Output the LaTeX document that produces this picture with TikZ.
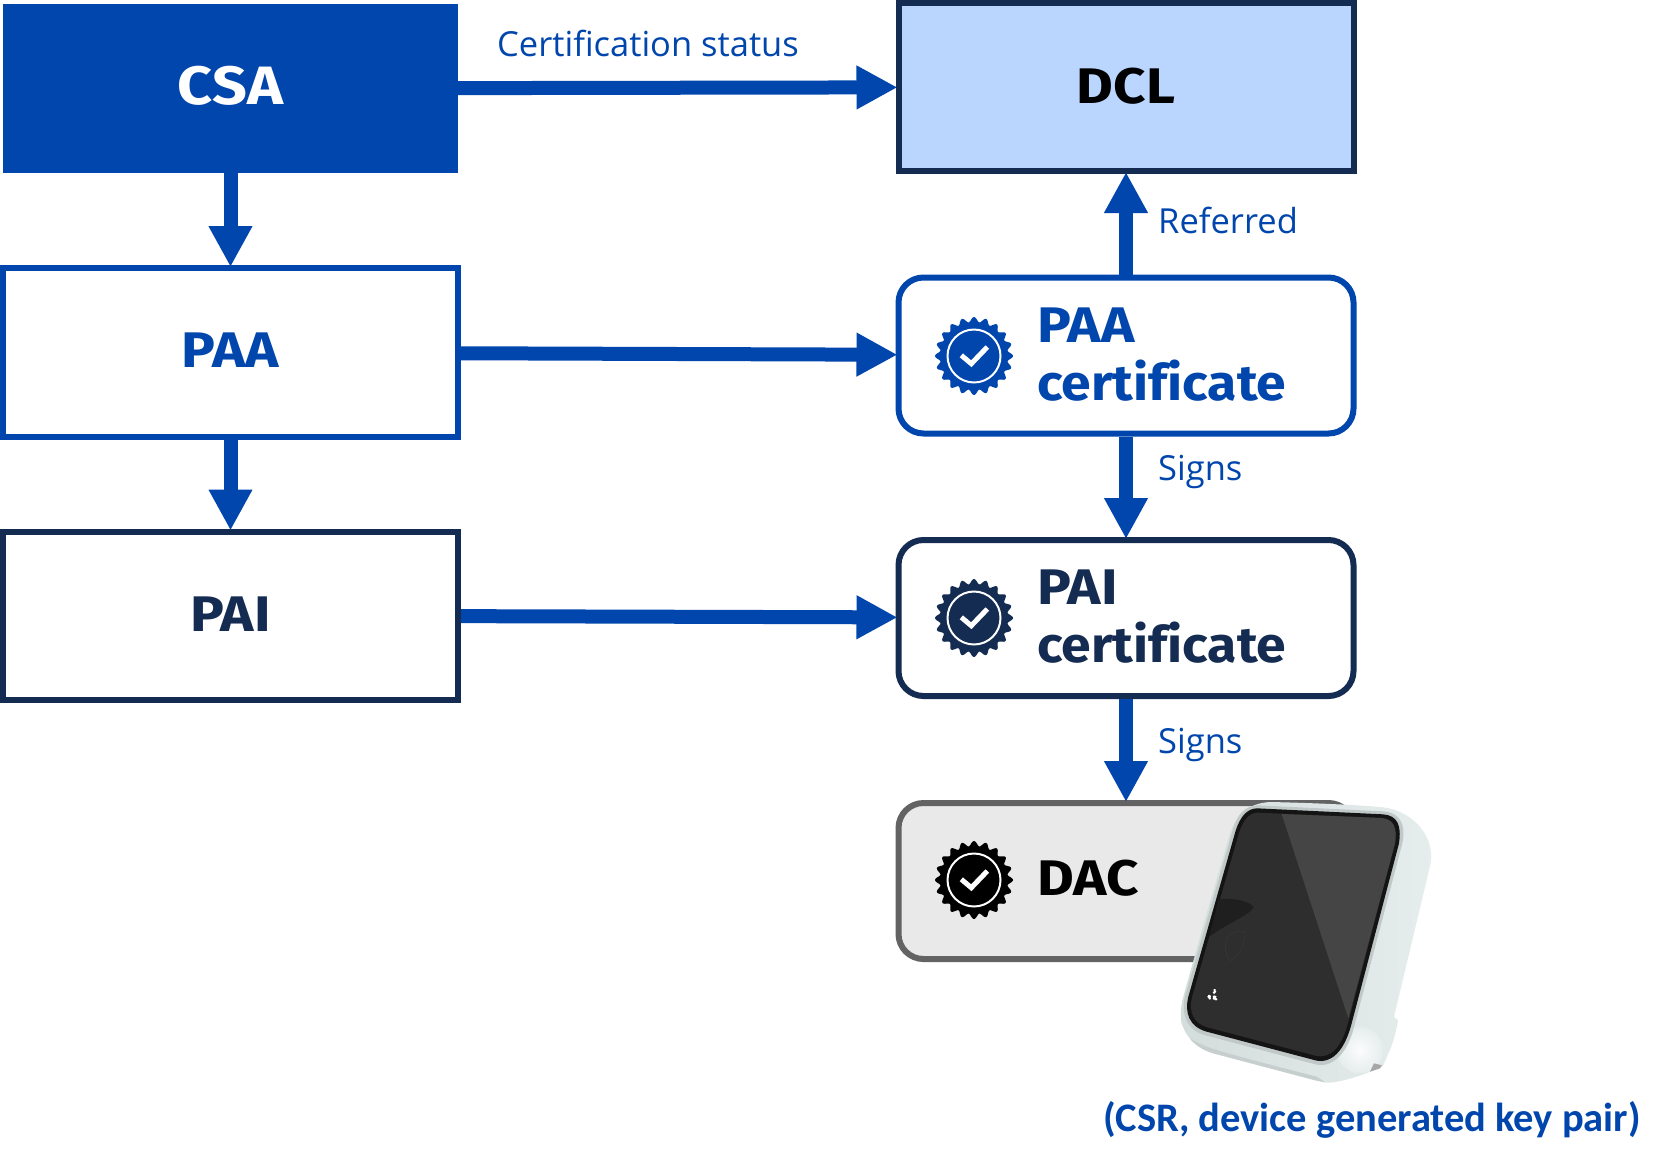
\documentclass[tikz,border=0pt]{standalone}
\usepackage{fontspec}
\usetikzlibrary{arrows.meta}
\setmainfont{Open Sans}
\newfontfamily\headfont[FakeStretch=1.07,Ligatures=NoCommon]{Fira Sans}
\newfontfamily\capsfont[FakeStretch=1.13]{Fira Sans}
\newfontfamily\capfont{Carlito}
\definecolor{mblue}{HTML}{0046AD}
\definecolor{mnavy}{HTML}{152C52}
\definecolor{mpale}{HTML}{BAD6FF}
\definecolor{mgreyfill}{HTML}{E9E9E9}
\definecolor{mgreyline}{HTML}{636363}
\definecolor{mblack}{HTML}{000000}
\definecolor{mbodya}{HTML}{D3DDDC}
\definecolor{mbodyb}{HTML}{E6EEED}
\definecolor{mbezel}{HTML}{C1C9C8}
\tikzset{
  sqbox/.style={draw,line width=6pt,outer sep=3pt,inner sep=0pt,minimum width=455pt,minimum height=168pt,fill=white,
    font=\capsfont\bfseries\fontsize{50}{50}\selectfont},
  certbox/.style={draw,line width=6pt,outer sep=3pt,inner sep=0pt,rounded corners=25pt,minimum width=455pt,minimum height=156pt,fill=white},
  head/.style={anchor=base west,inner sep=0pt,font=\bfseries\fontsize{50}{58}\selectfont,align=left},
  lab/.style={anchor=base west,inner sep=0pt,text=mblue,font=\fontsize{34.5}{36}\selectfont},
  conn/.style={line width=14pt,draw=mblue,shorten >=-2pt,-{Triangle[length=41pt,width=41pt]}},
}
\newcommand{\mbadge}[3]{%
  \begin{scope}[shift={(#2,#3)}]
    \fill[#1] plot[smooth cycle,domain=0:358.5,samples=240] (\x:{36.5+2.5*cos(20*\x)});
    \draw[white,line width=2pt] (0,0) circle (26.5);
    \draw[white,line width=5pt] (-12.7,-0.7) -- (-2.7,7.7) -- (13.3,-9);
  \end{scope}}
\newcommand{\mbody}{(300,36) .. controls (400,38) and (560,44) .. (640,52)
    .. controls (720,62) and (795,130) .. (782,220) -- (672,680) -- (684,692)
    .. controls (675,740) and (665,770) .. (655,790) -- (640,826)
    .. controls (610,845) and (520,878) .. (470,878)
    -- (440,872) -- (130,790) .. controls (80,775) and (50,745) .. (35,700)
    .. controls (30,680) and (32,650) .. (40,620) -- (110,370) -- (180,130)
    .. controls (195,85) and (225,40) .. (300,36) -- cycle}
\begin{document}
\begin{tikzpicture}[x=1pt,y=-1pt]
\useasboundingbox (0,0) rectangle (1675,1165);
\fill[white] (0,0) rectangle (1675,1165);
% left column
\node[sqbox,fill=mblue,draw=none,outer sep=0pt,minimum height=169pt,text=white,text depth=6pt,
  font=\capsfont\bfseries\fontsize{54}{54}\selectfont] (csa) at (230.5,88.5) {CSA};
\node[sqbox,draw=mblue,text=mblue,text depth=4pt,minimum height=169pt] (paa) at (230.5,352.5) {PAA};
\node[sqbox,draw=mnavy,text=mnavy,text depth=2pt] (pai) at (230.5,615.5) {PAI};
% right column
\node[sqbox,draw=mnavy,fill=mpale,text=mblack,text depth=2pt] (dcl) at (1126,87) {DCL};
\node[certbox,draw=mblue] (paac) at (1126,355.5) {};
\node[certbox,draw=mnavy] (paic) at (1126,618) {};
\node[certbox,draw=mgreyline,fill=mgreyfill] (dac) at (1126,881) {};
% connectors
\draw[conn] (csa) -- (dcl);
\draw[conn] (paa) -- (paac);
\draw[conn] (pai) -- (paic);
\draw[conn] (csa.south) -- (paa.north);
\draw[conn] (paa.south) -- (pai.north);
\draw[conn] (paac.north) -- (dcl.south);
\draw[conn] (paac.south) -- (paic.north);
\draw[conn] (paic.south) -- (dac.north);
% badges
\mbadge{mblue}{974}{356}
\mbadge{mnavy}{974}{618}
\mbadge{mblack}{974}{880}
% box texts
\node[head,text=mblue] (t1) at (1037,400) {\capsfont\bfseries PAA\\\headfont\bfseries certificate};
\node[head,text=mnavy] (t2) at (1037,662) {\capsfont\bfseries PAI\\\headfont\bfseries certificate};
\node[head,text=mblack,font=\capsfont\bfseries\fontsize{50}{58}\selectfont] (t3) at (1037,895) {DAC};
% labels
\node[lab] (l1) at (497,56) {Certification status};
\node[lab] (l2) at (1158,233) {Referred};
\node[lab] (l3) at (1158,480) {Signs};
\node[lab] (l4) at (1158,753) {Signs};
\node[lab,font=\capfont\bfseries\fontsize{40.5}{40}\selectfont] (l5) at (1103,1131) {(CSR, device generated key pair)};
% device
\begin{scope}[shift={(1170,790)},scale=1/3]
  \shade[left color=mbodya,right color=mbodyb] \mbody;
  \begin{scope}
    \clip \mbody;
    \shade[inner color=white,outer color=mbodyb,opacity=.9] (570,780) circle (70);
    \fill[mbodya!85!gray] (60,745) .. controls (110,775) and (130,780) .. (440,860) -- (470,880) -- (130,800) -- (40,745) -- cycle;
  \end{scope}
  \fill[gray!70!white] (600,845) -- (612,820) -- (636,826) -- (630,835) -- cycle;
  \fill[mbezel] (262,46) -- (640,64) .. controls (692,68) and (708,105) .. (697,160)
    -- (555,700) .. controls (532,800) and (482,832) .. (440,824)
    -- (110,737) .. controls (48,722) and (33,670) .. (45,620)
    -- (188,120) .. controls (203,68) and (228,48) .. (262,46) -- cycle;
  \fill[black!92!white] (262,55) -- (640,73) .. controls (682,77) and (695,105) .. (687,160)
    -- (545,700) .. controls (522,790) and (480,820) .. (440,812)
    -- (110,725) .. controls (58,710) and (43,670) .. (55,620)
    -- (197,122) .. controls (212,75) and (235,55) .. (262,55) -- cycle;
  \fill[black!82!white] (265,68) -- (635,84) .. controls (670,88) and (682,110) .. (675,160)
    -- (535,695) .. controls (515,775) and (480,805) .. (440,798)
    -- (112,712) .. controls (70,700) and (55,665) .. (66,622)
    -- (207,128) .. controls (222,85) and (240,68) .. (265,68) -- cycle;
  \fill[black!73!white] (335,72) -- (635,84) .. controls (670,88) and (682,110) .. (675,160) -- (535,685) -- cycle;
  \fill[black!88!white] (146,328) .. controls (190,322) and (245,335) .. (250,352) .. controls (240,375) and (180,395) .. (118,440) -- cycle;
  \draw[black!78!white,line width=0.5pt] (172,440) .. controls (190,425) and (210,420) .. (225,425) .. controls (225,470) and (205,500) .. (180,512) .. controls (165,495) and (162,465) .. (172,440);
  \draw[white,line width=2pt] (130,610) -- (137,603) (134,597) -- (134,606) (113,622) -- (122,618) (117,615) -- (120,628) (130,618) -- (140,630) (130,628) -- (137,618);
\end{scope}
\end{tikzpicture}
\end{document}
